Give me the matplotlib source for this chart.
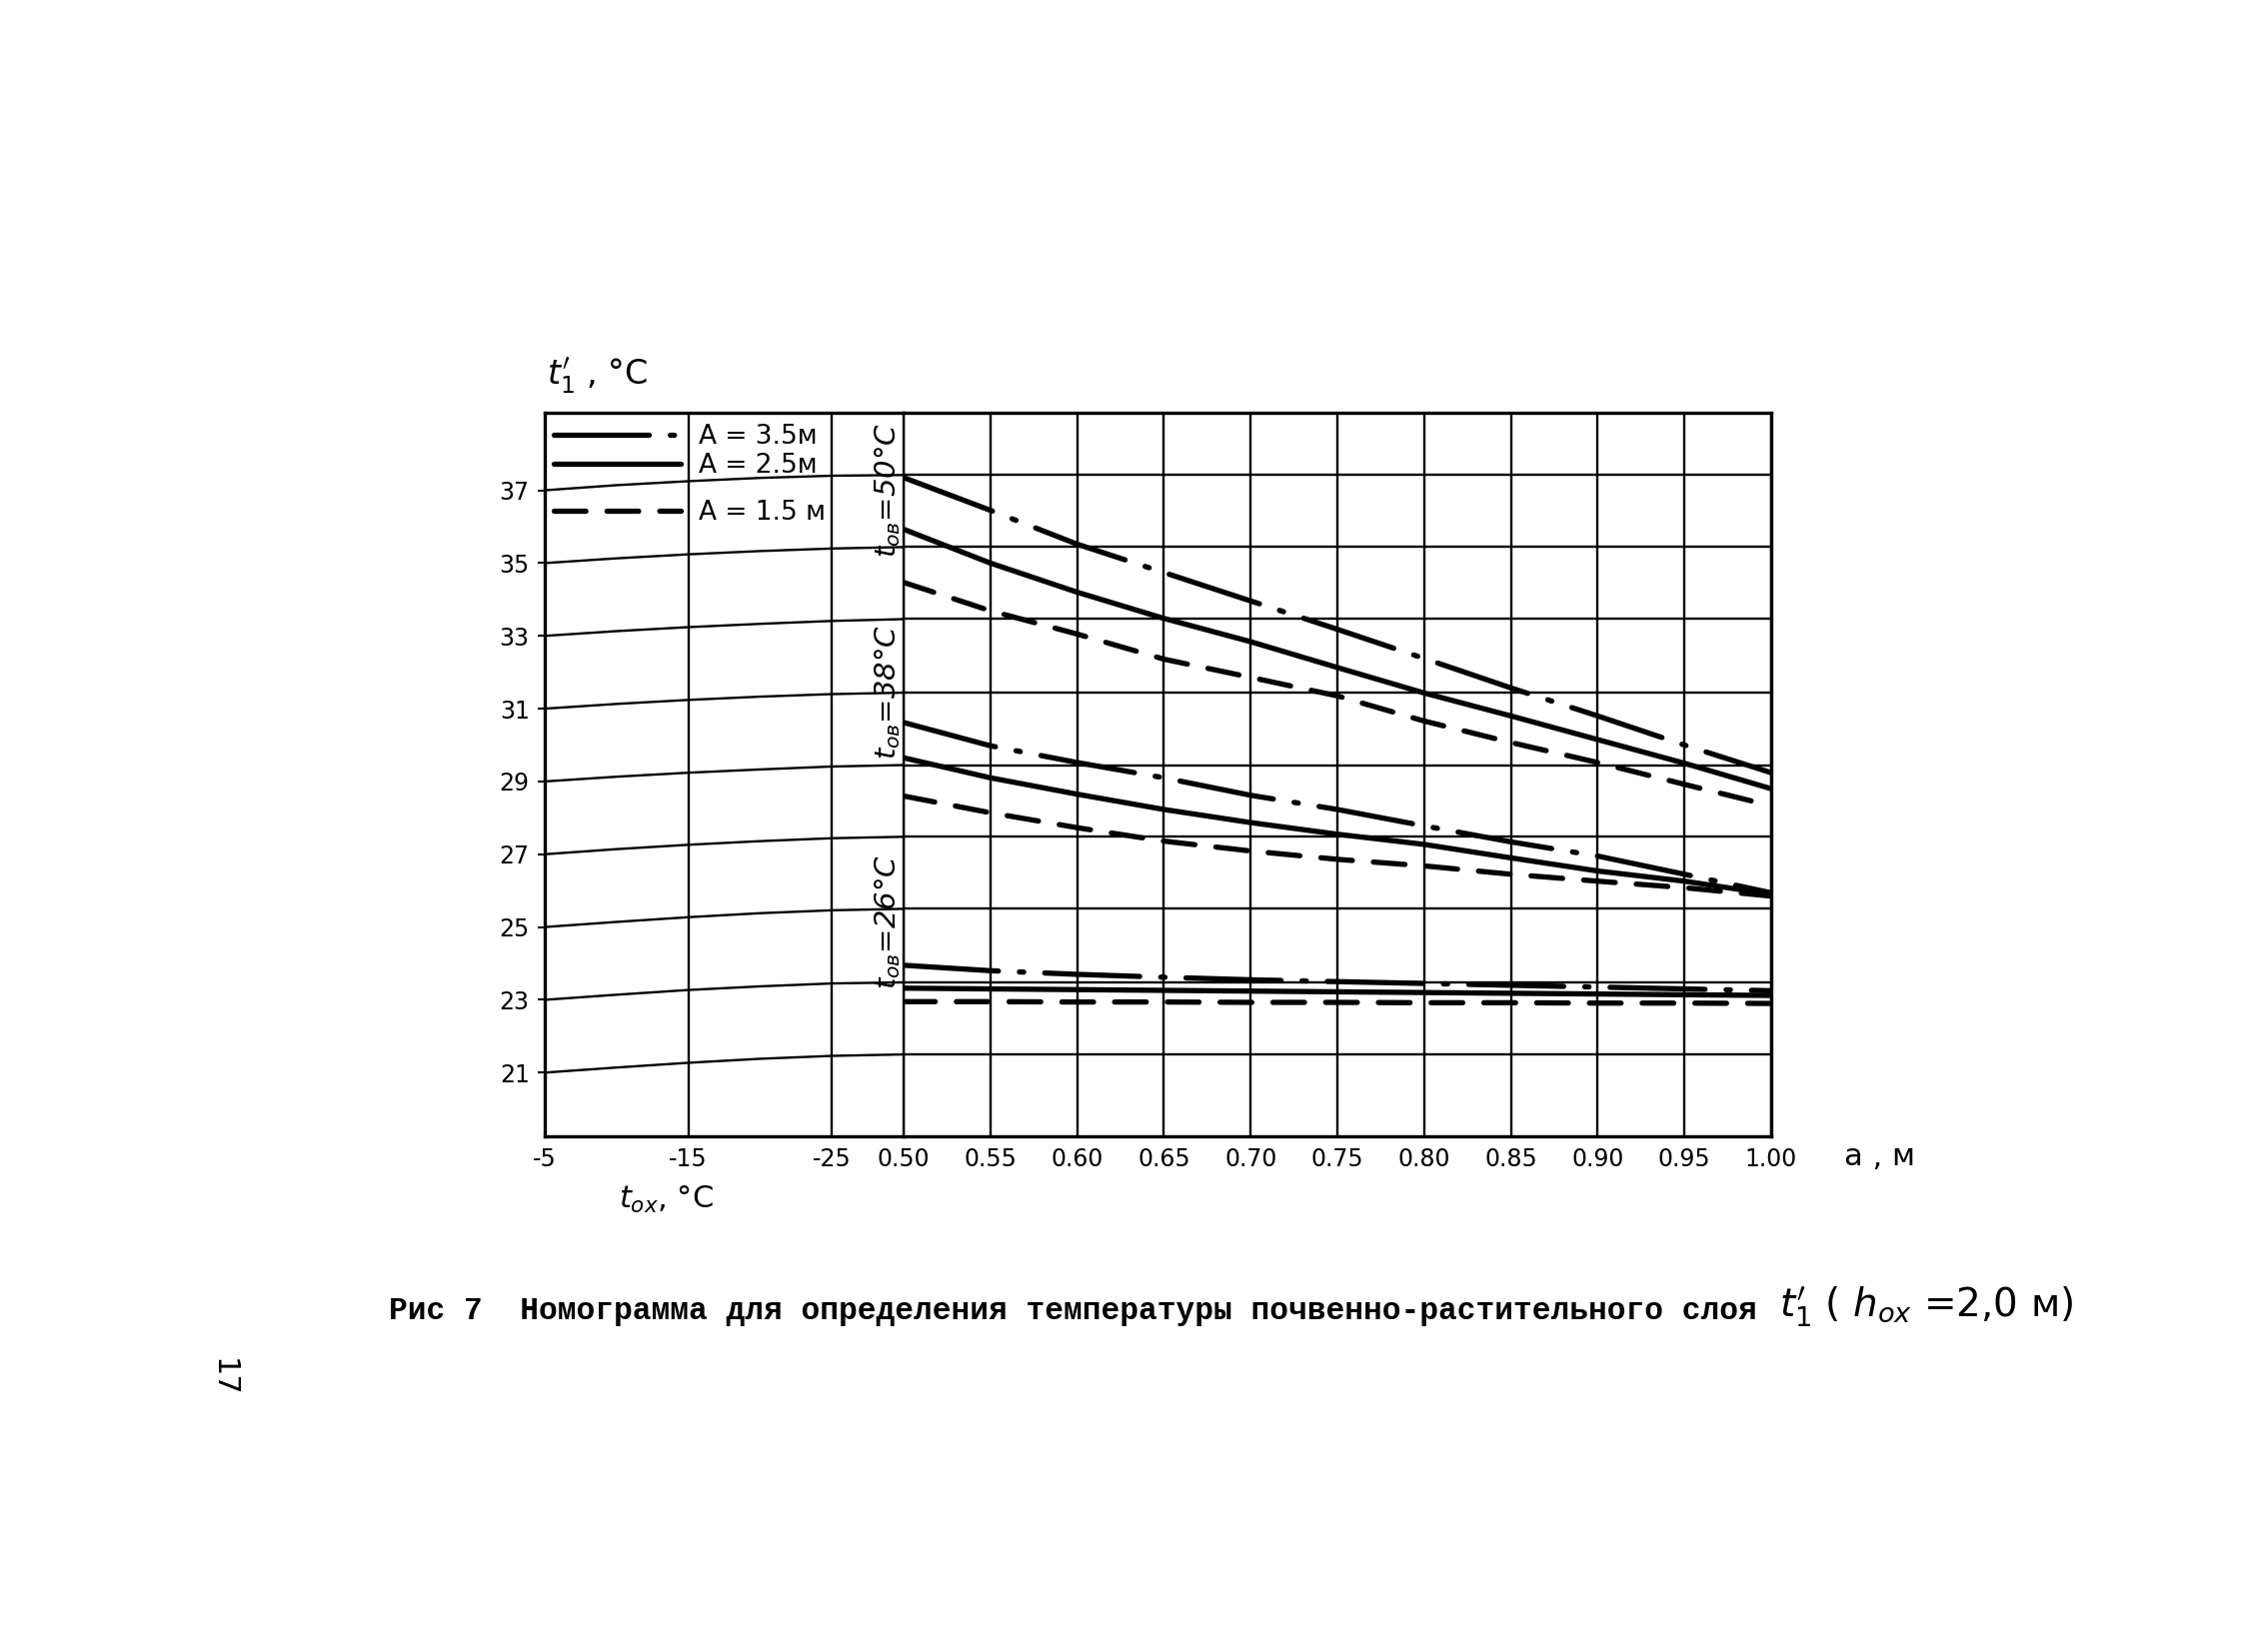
import matplotlib
matplotlib.use("Agg")
import matplotlib.pyplot as plt

W, H = 2245, 1653

# left part: t_ox (°C) and the t1' curves
t_ox = [-5, -10, -15, -20, -25, -30]
left_labels = [37, 35, 33, 31, 29, 27, 25, 23, 21]
left_curves = [
    [37.00, 37.14, 37.25, 37.34, 37.40, 37.42],
    [35.00, 35.13, 35.24, 35.33, 35.40, 35.44],
    [33.00, 33.13, 33.24, 33.33, 33.41, 33.46],
    [31.00, 31.13, 31.24, 31.33, 31.40, 31.44],
    [29.00, 29.13, 29.24, 29.33, 29.41, 29.45],
    [27.00, 27.14, 27.26, 27.36, 27.44, 27.48],
    [25.00, 25.14, 25.27, 25.38, 25.46, 25.50],
    [23.00, 23.14, 23.27, 23.37, 23.45, 23.48],
    [21.00, 21.14, 21.27, 21.38, 21.46, 21.50],
]

# right part: a (m) and t1' for t_ов = 50, 38, 26 °C, A = 3.5 / 2.5 / 1.5 m
a_vals = [0.50, 0.55, 0.60, 0.65, 0.70, 0.75, 0.80, 0.85, 0.90, 0.95, 1.00]
t50_a35 = [37.35, 36.45, 35.52, 34.74, 33.96, 33.18, 32.38, 31.57, 30.80, 30.00, 29.24]
t50_a25 = [35.93, 35.00, 34.20, 33.48, 32.84, 32.13, 31.43, 30.80, 30.15, 29.50, 28.80]
t50_a15 = [34.47, 33.69, 33.05, 32.36, 31.86, 31.35, 30.66, 30.07, 29.52, 28.92, 28.33]
t38_a35 = [30.62, 29.98, 29.52, 29.10, 28.62, 28.23, 27.78, 27.34, 26.95, 26.45, 25.94]
t38_a25 = [29.65, 29.10, 28.65, 28.23, 27.87, 27.55, 27.27, 26.90, 26.54, 26.26, 25.90]
t38_a15 = [28.60, 28.14, 27.73, 27.36, 27.09, 26.86, 26.68, 26.45, 26.26, 26.08, 25.85]
t26_a35 = [23.95, 23.80, 23.70, 23.62, 23.55, 23.50, 23.45, 23.40, 23.35, 23.30, 23.25]
t26_a25 = [23.32, 23.30, 23.28, 23.26, 23.24, 23.22, 23.20, 23.18, 23.16, 23.14, 23.12]
t26_a15 = [22.95, 22.95, 22.94, 22.94, 22.93, 22.93, 22.92, 22.92, 22.91, 22.91, 22.90]

t_ov_labels = ["50", "38", "26"]
legend_labels = ["A = 3.5м", "A = 2.5м", "A = 1.5 м"]

plt.rcParams['font.family'] = ['DejaVu Sans']
plt.rcParams['mathtext.fontset'] = 'dejavusans'

fig = plt.figure(figsize=(W / 100, H / 100), dpi=100)
fig.patch.set_facecolor('white')


def fx(px):
    return px / W


def fy(py):
    return 1 - py / H


left_px, mid_px, right_px = 545, 904, 1772
top_px, bot_px = 413, 1137
ax_l = fig.add_axes([fx(left_px), fy(bot_px), fx(mid_px - left_px), (bot_px - top_px) / H])
ax_r = fig.add_axes([fx(mid_px), fy(bot_px), fx(right_px - mid_px), (bot_px - top_px) / H], sharey=ax_l)

ax_l.set_xlim(-5, -30)
ax_l.set_ylim(19.25, 39.13)
ax_r.set_xlim(0.50, 1.00)

frame_lw = 2.4
grid_lw = 1.7
curve_lw = 3.8

for ax in (ax_l, ax_r):
    for s in ax.spines.values():
        s.set_linewidth(frame_lw)
        s.set_color('black')
ax_l.spines['right'].set_visible(False)
ax_r.spines['left'].set_linewidth(grid_lw)

# left part curves, continued as horizontal lines on the right
for row in left_curves:
    ax_l.plot(t_ox, row, color='black', lw=grid_lw, solid_capstyle='butt')
    ax_r.axhline(row[-1], color='black', lw=grid_lw)

ax_l.set_xticks([-5, -15, -25])
ax_l.set_xticklabels(["-5", "-15", "-25"])
ax_l.grid(axis='x', color='black', lw=grid_lw)
ax_l.set_yticks(left_labels)
ax_l.set_yticklabels([str(v) for v in left_labels])
ax_l.tick_params(axis='both', labelsize=17, length=5, width=1.5, direction='out', pad=6)
ax_l.tick_params(axis='x', length=0, pad=8)

ax_r.set_xticks(a_vals)
ax_r.set_xticklabels([f"{v:.2f}" for v in a_vals])
ax_r.grid(axis='x', color='black', lw=grid_lw)
ax_r.tick_params(axis='x', labelsize=17, length=0, pad=8)
ax_r.tick_params(axis='y', left=False, labelleft=False)

dashdot = (0, (18, 4, 0.8, 4))
dashed = (0, (6.0, 4.0))
styles = [dashdot, 'solid', dashed]

groups = [
    [t50_a35, t50_a25, t50_a15],
    [t38_a35, t38_a25, t38_a15],
    [t26_a35, t26_a25, t26_a15],
]
handles = []
for gi, grp in enumerate(groups):
    for si, series in enumerate(grp):
        ln, = ax_r.plot(a_vals, series, color='black', lw=curve_lw, linestyle=styles[si],
                        dash_capstyle='round', solid_capstyle='round')
        if gi == 0:
            handles.append(ln)

# t_ов labels, between -25 and 0.50
for lab, yc in zip(t_ov_labels, [37.0, 31.45, 25.15]):
    ax_l.text(-28.9, yc, r"$t_{ов}$=" + lab + "°C", rotation=90, ha='center', va='center',
              fontsize=21, style='italic')

leg_kw = dict(frameon=False, fontsize=19, handlelength=4.8, handletextpad=0.7,
              labelspacing=0.12, borderpad=0, borderaxespad=0)
leg1 = ax_l.legend(handles[:2], legend_labels[:2], loc='upper left',
                   bbox_to_anchor=(0.025, 0.985), **leg_kw)
ax_l.add_artist(leg1)
ax_l.legend(handles[2:], legend_labels[2:], loc='upper left',
            bbox_to_anchor=(0.025, 0.88), **leg_kw)

# axis titles
fig.text(fx(547), fy(377), r"$t_1'$ , °C", fontsize=24, ha='left', va='center')
fig.text(fx(619), fy(1200), r"$t_{ох}$, °C", fontsize=22, ha='left', va='center')
fig.text(fx(1845), fy(1157), "a , м", fontsize=22, ha='left', va='center')

# caption
fig.text(fx(389), fy(1312), "Рис 7  Номограмма для определения температуры почвенно-растительного слоя",
         family=['Liberation Mono', 'DejaVu Sans Mono'], weight='bold', fontsize=22.5,
         ha='left', va='center')
fig.text(fx(1780), fy(1308), r"$t_1'$ ( $h_{ох}$ =2,0 м)", fontsize=28, ha='left', va='center')

fig.text(fx(223), fy(1378), "17", rotation=-90, fontsize=22, ha='center', va='center')

fig.savefig("out.png", dpi=100, facecolor='white')
